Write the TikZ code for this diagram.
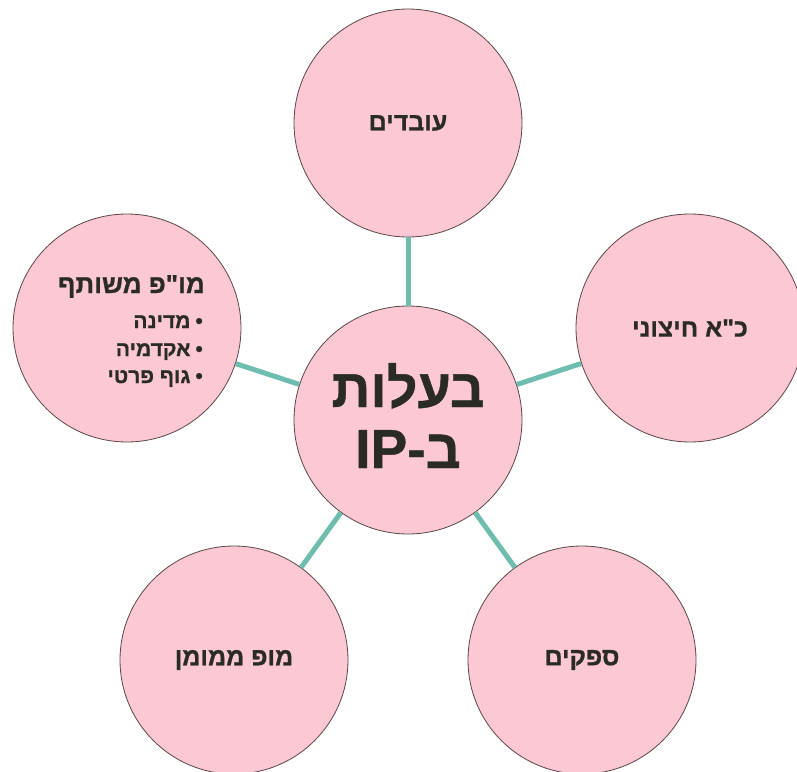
\documentclass[tikz,border=0pt]{standalone}
\usepackage{fontspec}
\TeXXeTstate=1
\newfontfamily\hebfont[Script=Hebrew, BoldFeatures={FakeBold=0.8}]{Liberation Sans}
\definecolor{pinkfill}{RGB}{252,200,211}
\definecolor{rimcol}{RGB}{90,70,72}
\definecolor{tealcol}{RGB}{111,189,174}
\definecolor{inkcol}{RGB}{43,43,38}
\tikzset{
  bubble/.style={circle, draw=rimcol, line width=0.8bp, fill=pinkfill, minimum size=228bp, inner sep=0pt, text=inkcol, font=\hebfont\bfseries\fontsize{25bp}{30bp}\selectfont},
  conn/.style={draw=tealcol, line width=5bp},
  lbl/.style={text=inkcol, inner sep=0pt},
}
\begin{document}
\begin{tikzpicture}[x=1bp,y=-1bp]
\useasboundingbox (0,0) rectangle (797,772);
\node[bubble] (c) at (408,420) {};
\node[bubble] (top) at (408,123) {\beginR עובדים\endR};
\node[bubble] (right) at (690,328) {\beginR כ"א חיצוני\endR};
\node[bubble] (br) at (582,660) {\beginR ספקים\endR};
\node[bubble] (bl) at (234,660) {\beginR מופ ממומן\endR};
\node[bubble, align=right] (left) at (127,328) {};
\draw[conn] (c) -- (top);
\draw[conn] (c) -- (right);
\draw[conn] (c) -- (br);
\draw[conn] (c) -- (bl);
\draw[conn] (c) -- (left);
\node[lbl, anchor=base, font=\hebfont\bfseries\fontsize{54bp}{60bp}\selectfont] (cl1) at (408,407) {\beginR בעלות\endR};
\node[lbl, anchor=base, font=\hebfont\bfseries\fontsize{55bp}{60bp}\selectfont] (cl2) at (408,468) {\beginR ב-\beginL IP\endL\endR};
\node[lbl, anchor=base east, font=\hebfont\bfseries\fontsize{26bp}{30bp}\selectfont] (lt) at (205,293) {\beginR מו"פ משותף\endR};
\node[lbl, anchor=base east, font=\hebfont\bfseries\fontsize{21bp}{24bp}\selectfont] (li1) at (203,328) {\beginR •\kern5bp מדינה\endR};
\node[lbl, anchor=base east, font=\hebfont\bfseries\fontsize{21bp}{24bp}\selectfont] (li2) at (203,356) {\beginR •\kern5bp אקדמיה\endR};
\node[lbl, anchor=base east, font=\hebfont\bfseries\fontsize{21bp}{24bp}\selectfont] (li3) at (203,383) {\beginR •\kern5bp גוף פרטי\endR};
\end{tikzpicture}
\end{document}
